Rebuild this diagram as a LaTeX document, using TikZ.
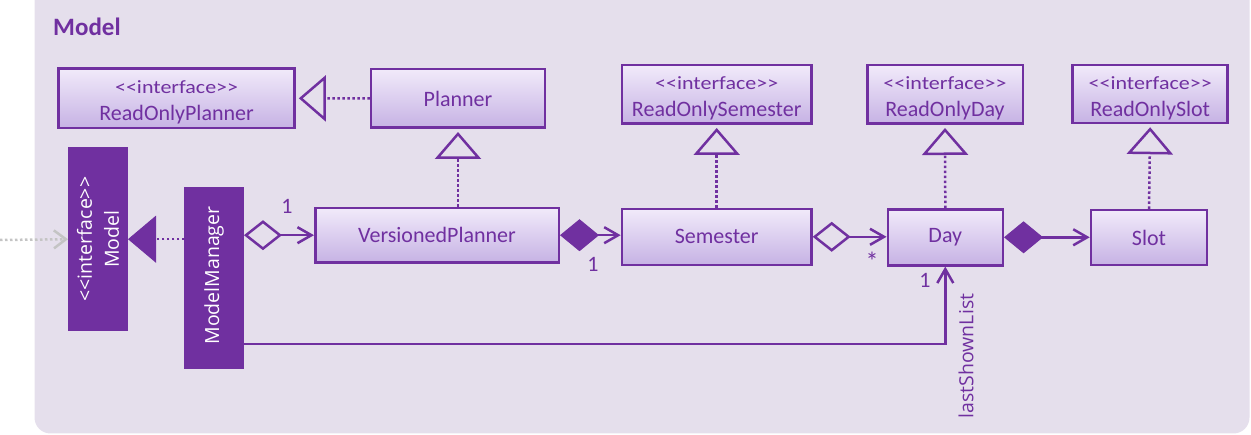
\documentclass[tikz,border=0pt]{standalone}
\usepackage{fontspec}
\usepackage{graphicx}
\setmainfont{Carlito}
\newfontfamily\uisans{Open Sans}
\usetikzlibrary{arrows.meta}
\definecolor{umlpurple}{RGB}{112,48,160}
\definecolor{pkgbg}{RGB}{229,223,236}
\definecolor{boxtop}{RGB}{241,234,250}
\definecolor{boxbot}{RGB}{198,178,228}
\definecolor{extgrey}{RGB}{196,196,196}
\newcommand\stereotxt{\rule{0pt}{21pt}\scalebox{1}[0.85]{<\kern0pt<interface>\kern0pt>}}
\begin{document}
\begin{tikzpicture}[x=1pt,y=-1pt,
  cls/.style={draw=umlpurple, line width=2.5pt, top color=boxtop, bottom color=boxbot,
    text=umlpurple, font=\fontsize{22}{27}\selectfont, align=center, inner sep=0pt},
  solidbox/.style={fill=umlpurple, draw=umlpurple, line width=1pt, inner sep=0pt},
  whitetxt/.style={text=white, font=\uisans\fontsize{19.5}{27}\selectfont, align=center, rotate=90, inner sep=0pt},
  conn/.style={draw=umlpurple, line width=2.5pt},
  dotline/.style={draw=umlpurple, line width=2.5pt, dash pattern=on 2.5pt off 2.5pt},
  realize/.style={dotline, -{Triangle[open, length=27pt, width=46pt, line width=2.5pt]}, shorten >=3pt},
  barb/.style={-{Straight Barb[length=14pt, width=16pt, line width=2.5pt]}},
  multlbl/.style={text=umlpurple, font=\fontsize{22}{22}\selectfont, inner sep=0pt}
]
\useasboundingbox (0,0) rectangle (1251,435);
\fill[pkgbg, rounded corners=16pt] (34.5,-20) rectangle (1249.5,433.5);

\node[anchor=west, text=umlpurple, font=\bfseries\fontsize{25}{25}\selectfont, inner sep=0pt] (title) at (53,27) {Model};

% interface boxes
\node[cls, minimum width=236pt, minimum height=59.5pt] (ROP) at (176.6,98.3) {\stereotxt\\ReadOnlyPlanner};
\node[cls, minimum width=174pt, minimum height=58.5pt] (P) at (458,98.5) {Planner};
\node[cls, minimum width=189.5pt, minimum height=58.5pt] (ROSem) at (716.7,94.5) {\stereotxt\\ReadOnlySemester};
\node[cls, minimum width=155.5pt, minimum height=58.5pt] (ROD) at (945,94.5) {\stereotxt\\ReadOnlyDay};
\node[cls, minimum width=155pt, minimum height=58pt] (ROSl) at (1150.2,94) {\stereotxt\\ReadOnlySlot};

% classes
\node[cls, minimum width=243.5pt, minimum height=54.5pt] (VP) at (437,235.2) {VersionedPlanner};
\node[cls, minimum width=189.5pt, minimum height=56pt] (Sem) at (716.7,236.8) {Semester};
\node[cls, minimum width=115pt, minimum height=56pt] (D) at (945.3,237.3) {Day};
\node[cls, minimum width=116pt, minimum height=55pt] (Sl) at (1149,237.7) {Slot};

% solid boxes
\node[solidbox, minimum width=59pt, minimum height=182.5pt] (M) at (98,239.2) {};
\node[whitetxt] (Mlbl) at (M.center) {<\kern0pt<interface>\kern0pt>\\Model};
\node[solidbox, minimum width=58.5pt, minimum height=181.5pt] (MM) at (214.2,277.8) {};
\node[whitetxt] (MMlbl) at (214,275.5) {ModelManager};

% realizations
\draw[realize] (P.west) -- (ROP.east);
\draw[realize] (P.south |- VP.north) -- (P.south);
\draw[realize] (Sem.north) -- (ROSem.south);
\draw[realize] (D.north) -- (ROD.south);
\draw[realize] (Sl.north) -- (ROSl.south);
\draw[dotline, -{Triangle[length=28pt, width=47pt, fill=umlpurple, line width=1pt]}] (MM.west |- M.east) -- (M.east);

% external grey arrow
\coordinate (ext) at (0,240);
\draw[draw=extgrey, line width=2.5pt, dash pattern=on 2.5pt off 2.5pt,
  -{Straight Barb[length=12pt, width=18pt, line width=2.5pt]}] (ext) -- (M.west);

% associations
\draw[conn, {Diamond[open, length=38pt, width=30pt, line width=2.5pt]}-{Straight Barb[length=14pt, width=16pt, line width=2.5pt]}]
  (MM.east |- VP.west) -- (VP.west);
\draw[conn, {Diamond[length=39pt, width=32pt, line width=1pt]}-{Straight Barb[length=14pt, width=16pt, line width=2.5pt]}]
  (VP.east) -- (VP.east -| Sem.west);
\draw[conn, {Diamond[open, length=38pt, width=30pt, line width=2.5pt]}-{Straight Barb[length=14pt, width=16pt, line width=2.5pt]}]
  (Sem.east) -- (Sem.east -| D.west);
\draw[conn, {Diamond[length=39pt, width=32pt, line width=1pt]}-{Straight Barb[length=14pt, width=16pt, line width=2.5pt]}]
  (D.east) -- (D.east -| Sl.west);
\coordinate (turn) at (945.3,344);
\draw[conn, barb] (MM.east |- turn) -| (D.south);

% labels
\node[multlbl] (m1) at (287,206) {1};
\node[multlbl] (m2) at (593,264) {1};
\node[multlbl, font=\fontsize{26}{26}\selectfont] (m3) at (872,261) {*};
\node[multlbl] (m4) at (925,280) {1};
\node[text=umlpurple, font=\uisans\fontsize{19.5}{19.5}\selectfont, rotate=90, inner sep=0pt] (lsl) at (966,356) {lastShownList};
\end{tikzpicture}
\end{document}
